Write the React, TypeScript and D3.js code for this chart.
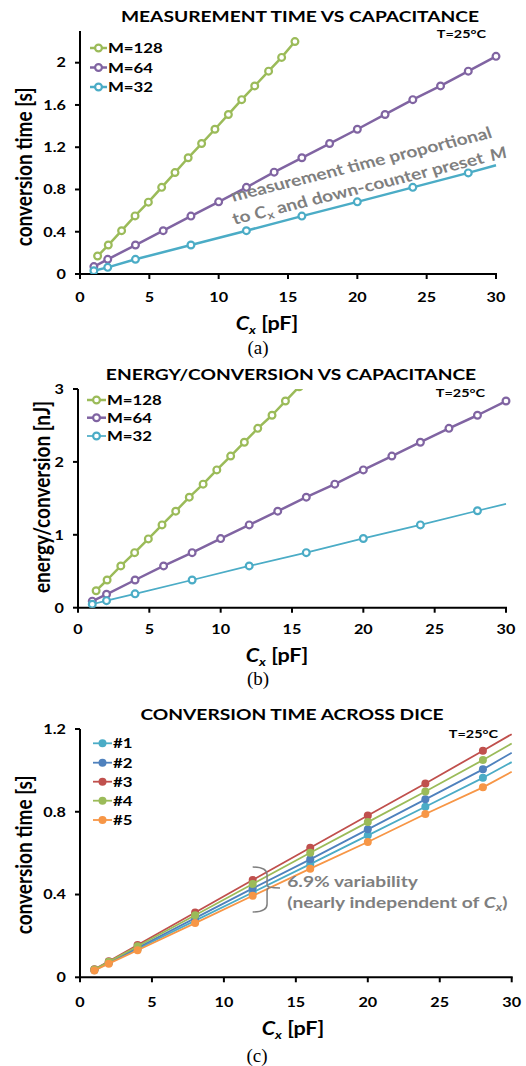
import React from 'react';
import * as d3 from 'd3';

// the original figure was stretched sideways, so chart text is too
const SX = 1.2;
const FONT = "Lato, 'Open Sans', sans-serif";
const GREY = '#7f7f7f';

const xTicks = [0, 5, 10, 15, 20, 25, 30];

// (a) measurement time vs capacitance
const capM128 = [1.27, 2.04, 3.0, 3.97, 4.93, 5.89, 6.85, 7.8, 8.77, 9.73, 10.7, 11.66, 12.6, 13.6, 14.54, 15.5];
const timeM128 = [0.17, 0.274, 0.41, 0.55, 0.68, 0.82, 0.96, 1.1, 1.235, 1.37, 1.51, 1.65, 1.78, 1.92, 2.05, 2.2];
const capM64 = [1, 2, 4, 6, 8, 10, 12, 14, 16, 18, 20, 22, 24, 26, 28, 30];
const timeM64 = [0.07, 0.139, 0.274, 0.41, 0.548, 0.683, 0.82, 0.964, 1.1, 1.235, 1.37, 1.51, 1.65, 1.78, 1.92, 2.06];
const capM32 = [1, 2, 4, 8, 12, 16, 20, 24, 28, 30];
const timeM32 = [0.031, 0.063, 0.139, 0.274, 0.41, 0.548, 0.683, 0.82, 0.957, 1.03];
const timeTicks = [0, 0.4, 0.8, 1.2, 1.6, 2];

// (b) energy per conversion
const energyM128 = [0.233, 0.38, 0.573, 0.755, 0.944, 1.136, 1.324, 1.516, 1.695, 1.89, 2.08, 2.27, 2.46, 2.64, 2.835, 3.03];
const energyM64 = [0.09, 0.184, 0.38, 0.573, 0.755, 0.948, 1.136, 1.324, 1.516, 1.695, 1.89, 2.08, 2.27, 2.46, 2.64, 2.835];
const energyM32 = [0.047, 0.097, 0.19, 0.38, 0.573, 0.755, 0.95, 1.136, 1.33, 1.424];
const energyTicks = [0, 1, 2, 3];

// (c) conversion time across dice
const capDice = [1, 2, 4, 8, 12, 16, 20, 24, 28, 30];
const die1 = [0.034, 0.069, 0.137, 0.274, 0.41, 0.547, 0.686, 0.824, 0.964, 1.04];
const die2 = [0.036, 0.072, 0.143, 0.286, 0.43, 0.57, 0.715, 0.86, 1.005, 1.085];
const die3 = [0.039, 0.078, 0.156, 0.313, 0.47, 0.626, 0.782, 0.937, 1.095, 1.175];
const die4 = [0.0375, 0.075, 0.15, 0.3, 0.451, 0.602, 0.75, 0.898, 1.05, 1.13];
const die5 = [0.033, 0.066, 0.131, 0.262, 0.394, 0.525, 0.654, 0.789, 0.918, 0.993];
const diceTicks = [0, 0.4, 0.8, 1.2];

const C = {
  green: '#9BBB59', purple: '#8064A2', teal: '#4BACC6',
  blue: '#4F81BD', red: '#C0504D', orange: '#F79646',
};

function Txt({ x, y, size, anchor = 'start', rot = 0, fill = '#000', weight = 'bold', children }: any) {
  const tr = `translate(${x},${y}) scale(${SX},1)` + (rot ? ` rotate(${rot})` : '');
  return (
    <text transform={tr} fontFamily={FONT} fontSize={size} fontWeight={weight} textAnchor={anchor} fill={fill}>
      {children}
    </text>
  );
}

function Cx({ size }: any) {
  return (
    <>
      <tspan fontStyle="italic">C</tspan>
      <tspan fontStyle="italic" fontSize={size * 0.65} dy={size * 0.22}>x</tspan>
      <tspan dy={-size * 0.22}>{' [pF]'}</tspan>
    </>
  );
}

function Panel({ cfg, id, children }: any) {
  const x = d3.scaleLinear().domain([0, 30]).range([cfg.left, cfg.right]);
  const y = d3.scaleLinear().domain([0, cfg.yMax]).range([cfg.bottom, cfg.top]);
  const fmt = (v: number) => String(+v.toFixed(1));
  return (
    <g>
      <defs>
        <clipPath id={id}>
          <rect x={cfg.left} y={cfg.top} width={cfg.right - cfg.left + 10} height={cfg.bottom - cfg.top} />
        </clipPath>
      </defs>
      <Txt x={cfg.titleX} y={cfg.titleY} size={16} anchor="middle">{cfg.title}</Txt>
      <Txt x={cfg.tempX} y={cfg.tempY} size={12} anchor="end">T=25°C</Txt>

      {/* axes */}
      <line x1={cfg.left} x2={cfg.left} y1={cfg.top} y2={cfg.bottom + 1} stroke="#000" strokeWidth={2} />
      <line x1={cfg.left - 1} x2={cfg.right + 1} y1={cfg.bottom} y2={cfg.bottom} stroke="#000" strokeWidth={2} />
      {cfg.yTicks.map((t: number) => (
        <g key={'y' + t}>
          <line x1={cfg.left - 5} x2={cfg.left} y1={y(t)} y2={y(t)} stroke="#000" strokeWidth={2} />
          <Txt x={cfg.left - 14} y={y(t) + 4.8} size={13.5} anchor="end">{fmt(t)}</Txt>
        </g>
      ))}
      {xTicks.map((t) => (
        <g key={'x' + t}>
          <line x1={x(t)} x2={x(t)} y1={cfg.bottom} y2={cfg.bottom + 5} stroke="#000" strokeWidth={2} />
          <Txt x={x(t)} y={cfg.tickY} size={13.5} anchor="middle">{t}</Txt>
        </g>
      ))}
      <Txt x={cfg.ylabX} y={cfg.ylabY} size={19} anchor="middle" rot={-90}>{cfg.ylabel}</Txt>
      <Txt x={cfg.xlabX} y={cfg.xlabY} size={18} anchor="middle"><Cx size={18} /></Txt>
      <text x={cfg.capX} y={cfg.capY} fontFamily="'Liberation Serif', serif" fontSize={19} textAnchor="middle">{cfg.caption}</text>

      {/* series */}
      <g clipPath={`url(#${id})`}>
        {cfg.series.map((s: any) => {
          const path = d3.line<number>().x((_, i) => x(s.xs[i])).y((d) => y(d))(s.ys);
          const marks = s.endMark ? s.ys : s.ys.slice(0, -1);
          return (
            <g key={s.name}>
              <path d={path || ''} fill="none" stroke={s.color} strokeWidth={s.lw} strokeLinejoin="round" />
              {marks.map((d: number, i: number) => (
                <circle key={i} cx={x(s.xs[i])} cy={y(d)} r={s.open ? 3.4 : 4}
                  fill={s.open ? '#fff' : s.color} stroke={s.color} strokeWidth={s.open ? 2.2 : 0} />
              ))}
            </g>
          );
        })}
      </g>

      {/* legend */}
      {cfg.series.map((s: any, i: number) => {
        const ly = cfg.legY[i];
        return (
          <g key={'l' + s.name}>
            <line x1={cfg.legX0} x2={cfg.legX1} y1={ly} y2={ly} stroke={s.color} strokeWidth={s.lw} />
            <circle cx={(cfg.legX0 + cfg.legX1) / 2} cy={ly} r={s.open ? 3.4 : 4}
              fill={s.open ? '#fff' : s.color} stroke={s.color} strokeWidth={s.open ? 2.2 : 0} />
            <Txt x={cfg.legX1 + 1} y={ly + 5} size={cfg.legSize}>{s.name}</Txt>
          </g>
        );
      })}
      {children && children(x, y)}
    </g>
  );
}

const panelA = {
  left: 80, right: 496, bottom: 274, top: 31, yMax: 2.3, yTicks: timeTicks,
  title: 'MEASUREMENT TIME VS CAPACITANCE', titleX: 300, titleY: 22,
  tempX: 486, tempY: 38,
  legX0: 90, legX1: 107, legY: [48, 67.5, 87], legSize: 14,
  ylabel: 'conversion time [s]', ylabX: 32, ylabY: 167,
  tickY: 302, xlabX: 267, xlabY: 330, caption: '(a)', capX: 258, capY: 354,
  series: [
    { name: 'M=128', color: C.green, xs: capM128, ys: timeM128, lw: 2.5, open: true, endMark: true },
    { name: 'M=64', color: C.purple, xs: capM64, ys: timeM64, lw: 2.5, open: true, endMark: true },
    { name: 'M=32', color: C.teal, xs: capM32, ys: timeM32, lw: 2.5, open: true, endMark: false },
  ],
};

const panelB = {
  left: 78, right: 506, bottom: 607.7, top: 389, yMax: 3, yTicks: energyTicks,
  title: 'ENERGY/CONVERSION VS CAPACITANCE', titleX: 291, titleY: 380,
  tempX: 485, tempY: 397,
  legX0: 87, legX1: 106, legY: [400, 417.7, 436], legSize: 14,
  ylabel: 'energy/conversion [nJ]', ylabX: 50, ylabY: 497,
  tickY: 634, xlabX: 277, xlabY: 661.7, caption: '(b)', capX: 258, capY: 685,
  series: [
    { name: 'M=128', color: C.green, xs: capM128, ys: energyM128, lw: 2.5, open: true, endMark: true },
    { name: 'M=64', color: C.purple, xs: capM64, ys: energyM64, lw: 2.5, open: true, endMark: true },
    { name: 'M=32', color: C.teal, xs: capM32, ys: energyM32, lw: 1.7, open: true, endMark: false },
  ],
};

const panelC = {
  left: 80, right: 511.7, bottom: 977.3, top: 729, yMax: 1.2, yTicks: diceTicks,
  title: 'CONVERSION TIME ACROSS DICE', titleX: 292, titleY: 720,
  tempX: 498, tempY: 738,
  legX0: 93, legX1: 112, legY: [743.3, 762.7, 781.7, 800.7, 820], legSize: 14,
  ylabel: 'conversion time [s]', ylabX: 32, ylabY: 855,
  tickY: 1006.7, xlabX: 293, xlabY: 1035, caption: '(c)', capX: 257, capY: 1062,
  series: [
    { name: '#1', color: C.teal, xs: capDice, ys: die1, lw: 1.8, open: false, endMark: false },
    { name: '#2', color: C.blue, xs: capDice, ys: die2, lw: 1.8, open: false, endMark: false },
    { name: '#3', color: C.red, xs: capDice, ys: die3, lw: 1.8, open: false, endMark: false },
    { name: '#4', color: C.green, xs: capDice, ys: die4, lw: 1.8, open: false, endMark: false },
    { name: '#5', color: C.orange, xs: capDice, ys: die5, lw: 1.8, open: false, endMark: false },
  ],
};

export default function App() {
  return (
    <svg width={526} height={1066} style={{ position: 'absolute', left: 0, top: 0, background: '#fff' }}>
      <rect width={526} height={1066} fill="#fff" />
      <Panel cfg={panelA} id="clipA">
        {(x: any, y: any) => (
          <text transform={`translate(${x(11.05)},${y(0.685)}) scale(${SX},1) rotate(-16.5)`}
            fontFamily={FONT} fontSize={16} fontWeight="bold" fill={GREY}>
            <tspan x={0} y={0}>measurement time proportional</tspan>
            <tspan x={-5.6} y={22.5}>{'to '}</tspan>
            <tspan fontStyle="italic">C</tspan>
            <tspan fontSize={11} dy={3}>x</tspan>
            <tspan dy={-3}>{' and down-counter preset'}</tspan>
            <tspan dx={6} fontStyle="italic">M</tspan>
          </text>
        )}
      </Panel>
      <Panel cfg={panelB} id="clipB" />
      <Panel cfg={panelC} id="clipC">
        {(x: any, y: any) => {
          const bx = x(13), tip = x(12), top = y(0.533), mid = y(0.432), bot = y(0.316);
          const d = `M${tip},${top} Q${bx},${top} ${bx},${top + 8} L${bx},${mid - 3} Q${bx},${mid} ${x(13.9)},${mid}`
            + ` M${bx + 2},${mid} Q${bx},${mid} ${bx},${mid + 3} L${bx},${bot - 8} Q${bx},${bot} ${tip},${bot}`;
          return (
            <g>
              <path d={d} fill="none" stroke={GREY} strokeWidth={1.5} />
              <Txt x={x(14.4)} y={y(0.437)} size={16} fill={GREY}>6.9% variability</Txt>
              <Txt x={x(14.4)} y={y(0.437) + 21} size={16} fill={GREY}>
                {'(nearly independent of '}
                <tspan fontStyle="italic">C</tspan>
                <tspan fontStyle="italic" fontSize={11} dy={3}>x</tspan>
                <tspan dy={-3}>)</tspan>
              </Txt>
            </g>
          );
        }}
      </Panel>
    </svg>
  );
}
